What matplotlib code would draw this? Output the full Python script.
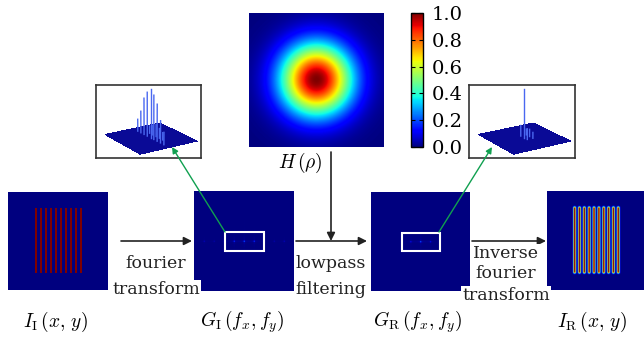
import numpy as np
import matplotlib
matplotlib.use("Agg")
import matplotlib.pyplot as plt
from matplotlib.patches import Rectangle

plt.rcParams['font.family'] = ['DejaVu Serif']
plt.rcParams['mathtext.fontset'] = 'cm'

W, H = 644, 341

# grating object
grid_n = 200
stripe_cols = [56, 66, 76, 86, 96, 106, 116, 126, 136, 146]
stripe_rows = (32, 166)
stripe_width = 4
blur_sigma = 1.4          # lowpass width, grid pixels
spectrum_clim = 3.0       # spectra are shown faint, as in the figure

# filter shown on top
filter_sigma = 0.37
cbar_ticks = [0.0, 0.2, 0.4, 0.6, 0.8, 1.0]

# 3D spectra in the two insets (order along fx, order along fy, height)
spec_in_fx = [-4, -3, -2, -1, 0, 1, 2, 3, 4, -2, -1, 0, 1, 2]
spec_in_fy = [0, 0, 0, 0, 0, 0, 0, 0, 0, 1, 1, 1, 1, 1]
spec_in_h = [0.25, 0.45, 0.75, 0.9, 1.0, 0.9, 0.75, 0.45, 0.25, 0.15, 0.2, 0.25, 0.2, 0.15]
spec_out_fx = [0, -1, 1, -1, 0, 1]
spec_out_fy = [0, 0, 0, 1, 1, 1]
spec_out_h = [1.0, 0.22, 0.22, 0.12, 0.15, 0.12]

labels = [r'$I_{\rm I}\,(x,\,y)$', r'$G_{\rm I}\,(f_x,f_y)$',
          r'$G_{\rm R}\,(f_x,f_y)$', r'$I_{\rm R}\,(x,\,y)$']

# ---- compute images ----
obj = np.zeros((grid_n, grid_n))
for c in stripe_cols:
    obj[stripe_rows[0]:stripe_rows[1], c - 1:c - 1 + stripe_width] = 1.0

F_in = np.fft.fftshift(np.fft.fft2(obj))
f = np.fft.fftshift(np.fft.fftfreq(grid_n))
FX, FY = np.meshgrid(f, f)
lowpass = np.exp(-2 * np.pi ** 2 * blur_sigma ** 2 * (FX ** 2 + FY ** 2))
F_out = F_in * lowpass
rec = np.abs(np.fft.ifft2(np.fft.ifftshift(F_out)))
rec /= rec.max()
G_in = np.abs(F_in) / np.abs(F_in).max()
G_out = np.abs(F_out) / np.abs(F_out).max()

rho = np.linspace(-1, 1, 300)
RX, RY = np.meshgrid(rho, rho)
H_img = np.exp(-(RX ** 2 + RY ** 2) / (2 * filter_sigma ** 2))

fig = plt.figure(figsize=(W / 100, H / 100), dpi=100)


def px_axes(x0, y0, x1, y1, **kw):
    return fig.add_axes([x0 / W, 1 - y1 / H, (x1 - x0) / W, (y1 - y0) / H], **kw)


def show(ax, img, interp='antialiased', vmax=1):
    im = ax.imshow(img, cmap='jet', vmin=0, vmax=vmax, aspect='auto',
                   interpolation=interp)
    ax.set_axis_off()
    return im


show(px_axes(8, 192, 108, 290), obj, 'nearest')
ax_gi = px_axes(194, 191, 294, 291)
show(ax_gi, G_in, vmax=spectrum_clim)
ax_gr = px_axes(371, 192, 470, 291)
show(ax_gr, G_out, vmax=spectrum_clim)
show(px_axes(547, 191, 644, 290), rec)
im_h = show(px_axes(249, 13, 384, 147), H_img)

for ax in (ax_gi, ax_gr):
    ax.add_patch(Rectangle((0.31, 0.40), 0.39, 0.19, transform=ax.transAxes,
                           fill=False, ec='white', lw=1.5))

cax = px_axes(411, 13, 423, 147)
cb = fig.colorbar(im_h, cax=cax, ticks=cbar_ticks)
cb.ax.set_yticklabels(['%.1f' % t for t in cbar_ticks])
cb.ax.tick_params(labelsize=14, direction='in', left=True, right=True,
                  length=3, width=0.8, pad=6)
cb.outline.set_linewidth(1)


def spectrum_inset(x0, y0, x1, y1, fx, fy, h):
    frame = px_axes(x0, y0, x1, y1)
    frame.set_xticks([])
    frame.set_yticks([])
    for s in frame.spines.values():
        s.set_color('#333333')
        s.set_linewidth(1.2)
    # square 3D axes centred on the frame (slightly raised) so nothing clips
    cx, cy, half = (x0 + x1) / 2, (y0 + y1) / 2 - 6, 75
    ax3 = px_axes(cx - half, cy - half, cx + half, cy + half,
                  projection='3d', computed_zorder=False)
    ax3.set_axis_off()
    ax3.patch.set_alpha(0)
    xs = np.linspace(-1, 1, 2)
    PX, PY = np.meshgrid(xs, xs)
    ax3.plot_surface(PX, PY, np.zeros_like(PX), color='#0a0a96', shade=False,
                     lw=0, antialiased=False, zorder=1)
    for a, b, z in zip(fx, fy, h):
        ax3.plot([a * 0.18, a * 0.18], [b * 0.2, b * 0.2], [0, z],
                 color='#4a68f0', lw=1.0, zorder=2)
    ax3.set_xlim(-1, 1)
    ax3.set_ylim(-1, 1)
    ax3.set_zlim(0, 1)
    ax3.view_init(elev=18, azim=-33)
    ax3.set_box_aspect((1.5, 1.5, 1.15), zoom=0.70)


spectrum_inset(96, 85, 201, 158, spec_in_fx, spec_in_fy, spec_in_h)
spectrum_inset(469, 85, 575, 158, spec_out_fx, spec_out_fy, spec_out_h)

# ---- overlay: arrows and text ----
ov = fig.add_axes([0, 0, 1, 1])
ov.set_xlim(0, W)
ov.set_ylim(H, 0)
ov.set_axis_off()
ov.patch.set_alpha(0)
ov.set_zorder(10)

arrow = dict(arrowstyle='-|>', color='#222222', lw=1.2, mutation_scale=12,
             shrinkA=0, shrinkB=0)
for xa, xb in [(121, 192), (296, 367), (472, 546)]:
    ov.annotate('', xy=(xb, 241), xytext=(xa, 241), arrowprops=arrow)
ov.annotate('', xy=(331, 241), xytext=(331, 152), arrowprops=arrow)

green = dict(arrowstyle='-|>', color='#10a050', lw=1.0, mutation_scale=9,
             shrinkA=0, shrinkB=0)
ov.annotate('', xy=(172, 147), xytext=(225, 232), arrowprops=green)
ov.annotate('', xy=(492, 147), xytext=(439, 232), arrowprops=green)

box = dict(fc='white', ec='none', pad=0.5)
txt = dict(ha='center', va='center', fontsize=12.5, color='#222222', bbox=box)
ov.text(156, 264, 'fourier', **txt)
ov.text(156, 289, 'transform', **txt)
ov.text(331, 264, 'lowpass', **txt)
ov.text(331, 289, 'filtering', **txt)
ov.text(506, 253, 'Inverse', **txt)
ov.text(506, 274, 'fourier', **txt)
ov.text(506, 295, 'transform', **txt)

for x, lab in zip([56, 242, 418, 592], labels):
    ov.text(x, 322, lab, ha='center', va='center', fontsize=14)
ov.text(300, 163, r'$H\,(\rho)$', ha='center', va='center', fontsize=14)

fig.savefig('out.png', dpi=100)
